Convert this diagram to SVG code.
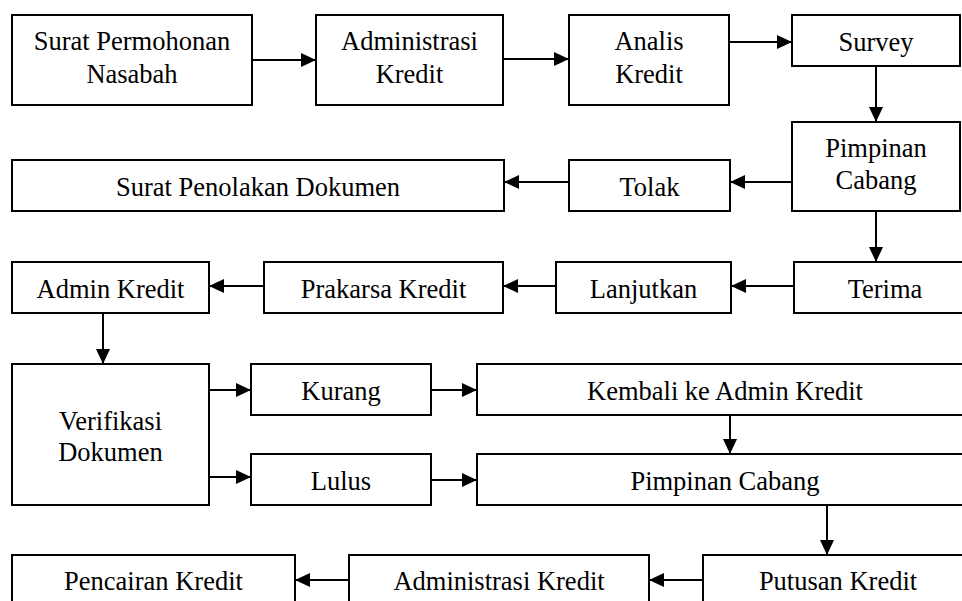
<svg xmlns="http://www.w3.org/2000/svg" width="962" height="601" viewBox="0 0 962 601">
<style>
.b{fill:#fff;stroke:#000;stroke-width:2}
.t{font-family:'Liberation Serif',Tinos,'Times New Roman','DejaVu Serif',serif;font-size:26.5px;fill:#000;text-anchor:middle}
.c{stroke:#000;stroke-width:2;fill:none;marker-end:url(#ah)}
</style>
<defs>
<marker id="ah" markerUnits="userSpaceOnUse" markerWidth="15" markerHeight="14" refX="15" refY="7" orient="auto">
<path d="M0,0 L15,7 L0,14 Z" fill="#000"/>
</marker>
</defs>
<rect width="962" height="601" fill="#fff"/>
<g id="connectors">
<line class="c" x1="252" y1="60" x2="316" y2="60"/>
<line class="c" x1="503" y1="59" x2="569" y2="59"/>
<line class="c" x1="729" y1="42" x2="792" y2="42"/>
<line class="c" x1="876" y1="66" x2="876" y2="122"/>
<line class="c" x1="792" y1="182" x2="730" y2="182"/>
<line class="c" x1="569" y1="182" x2="504" y2="182"/>
<line class="c" x1="876" y1="211" x2="876" y2="262"/>
<line class="c" x1="794" y1="286" x2="731" y2="286"/>
<line class="c" x1="556" y1="286" x2="503" y2="286"/>
<line class="c" x1="264" y1="286" x2="209" y2="286"/>
<line class="c" x1="103" y1="313" x2="103" y2="364"/>
<line class="c" x1="209" y1="390" x2="251" y2="390"/>
<line class="c" x1="209" y1="477" x2="251" y2="477"/>
<line class="c" x1="431" y1="390" x2="477" y2="390"/>
<line class="c" x1="431" y1="480" x2="477" y2="480"/>
<line class="c" x1="730" y1="415" x2="730" y2="454"/>
<line class="c" x1="827" y1="505" x2="827" y2="555"/>
<line class="c" x1="703" y1="580" x2="649" y2="580"/>
<line class="c" x1="349" y1="580" x2="295" y2="580"/>
</g>
<g id="n1"><rect class="b" x="12" y="15" width="240" height="90"/><text class="t" x="132" y="50">Surat Permohonan</text><text class="t" x="132" y="82.5">Nasabah</text></g>
<g id="n2"><rect class="b" x="316" y="15" width="187" height="90"/><text class="t" x="409.5" y="50">Administrasi</text><text class="t" x="409.5" y="82.5">Kredit</text></g>
<g id="n3"><rect class="b" x="569" y="15" width="160" height="90"/><text class="t" x="649" y="50">Analis</text><text class="t" x="649" y="82.5">Kredit</text></g>
<g id="n4"><rect class="b" x="792" y="15" width="168" height="51"/><text class="t" x="876" y="51">Survey</text></g>
<g id="n5"><rect class="b" x="792" y="122" width="168" height="89"/><text class="t" x="876" y="157">Pimpinan</text><text class="t" x="876" y="188.5">Cabang</text></g>
<g id="n6"><rect class="b" x="569" y="160" width="161" height="51"/><text class="t" x="649.5" y="195.5">Tolak</text></g>
<g id="n7"><rect class="b" x="12" y="160" width="492" height="51"/><text class="t" x="258" y="195.5">Surat Penolakan Dokumen</text></g>
<g id="n8"><rect class="b" x="794" y="262" width="182" height="51"/><text class="t" x="885" y="297.5">Terima</text></g>
<g id="n9"><rect class="b" x="556" y="262" width="175" height="51"/><text class="t" x="643.5" y="297.5">Lanjutkan</text></g>
<g id="n10"><rect class="b" x="264" y="262" width="239" height="51"/><text class="t" x="383.5" y="297.5">Prakarsa Kredit</text></g>
<g id="n11"><rect class="b" x="12" y="262" width="197" height="51"/><text class="t" x="110.5" y="297.5">Admin Kredit</text></g>
<g id="n12"><rect class="b" x="12" y="364" width="197" height="141"/><text class="t" x="110.5" y="429.5">Verifikasi</text><text class="t" x="110.5" y="460.5">Dokumen</text></g>
<g id="n13"><rect class="b" x="251" y="364" width="180" height="51"/><text class="t" x="341" y="399.5">Kurang</text></g>
<g id="n14"><rect class="b" x="251" y="454" width="180" height="51"/><text class="t" x="341" y="489.5">Lulus</text></g>
<g id="n15"><rect class="b" x="477" y="364" width="496" height="51"/><text class="t" x="725" y="399.5">Kembali ke Admin Kredit</text></g>
<g id="n16"><rect class="b" x="477" y="454" width="496" height="51"/><text class="t" x="725" y="489.5">Pimpinan Cabang</text></g>
<g id="n17"><rect class="b" x="703" y="555" width="270" height="51"/><text class="t" x="838" y="590">Putusan Kredit</text></g>
<g id="n18"><rect class="b" x="349" y="555" width="300" height="51"/><text class="t" x="499" y="590">Administrasi Kredit</text></g>
<g id="n19"><rect class="b" x="12" y="555" width="283" height="51"/><text class="t" x="153.5" y="590">Pencairan Kredit</text></g>
</svg>
